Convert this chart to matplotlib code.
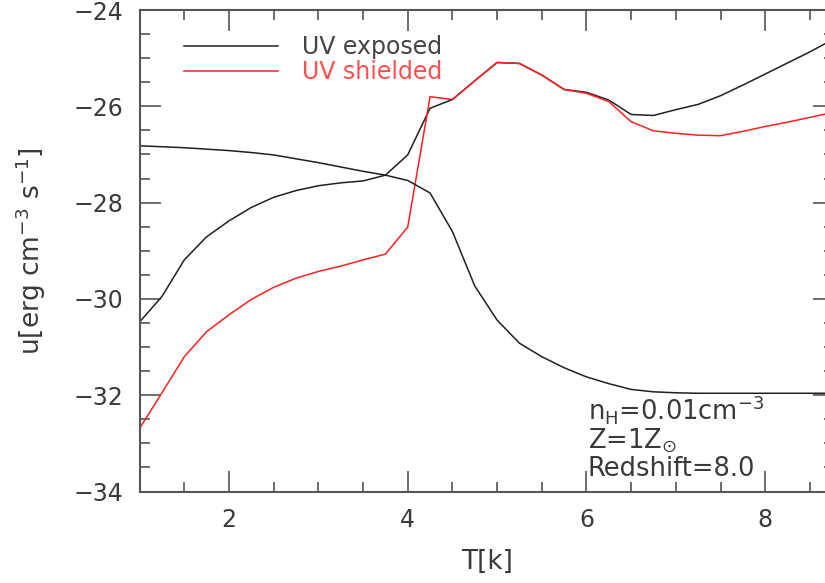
import matplotlib
matplotlib.use("Agg")
import matplotlib.pyplot as plt
from matplotlib.ticker import MultipleLocator

T = [1.0, 1.25, 1.5, 1.75, 2.0, 2.25, 2.5, 2.75, 3.0, 3.25, 3.5, 3.75, 4.0, 4.25,
     4.5, 4.75, 5.0, 5.25, 5.5, 5.75, 6.0, 6.25, 6.5, 6.75, 7.0, 7.25, 7.5, 7.75,
     8.0, 8.25, 8.5, 8.75]

uv_exposed = [-30.48, -29.95, -29.19, -28.71, -28.38, -28.10, -27.89, -27.75, -27.65,
              -27.59, -27.55, -27.43, -27.01, -26.04, -25.86, -25.47, -25.09, -25.11,
              -25.35, -25.65, -25.71, -25.87, -26.17, -26.19, -26.07, -25.96, -25.78,
              -25.56, -25.33, -25.10, -24.87, -24.62]

uv_shielded = [-32.69, -31.95, -31.20, -30.68, -30.33, -30.01, -29.76, -29.57, -29.43,
               -29.32, -29.19, -29.07, -28.51, -25.80, -25.86, -25.47, -25.09, -25.11,
               -25.35, -25.65, -25.73, -25.90, -26.32, -26.51, -26.56, -26.60, -26.61,
               -26.52, -26.42, -26.33, -26.23, -26.13]

cooling = [-26.82, -26.84, -26.86, -26.89, -26.92, -26.96, -27.01, -27.09, -27.17,
           -27.26, -27.35, -27.43, -27.54, -27.80, -28.60, -29.73, -30.44, -30.92,
           -31.20, -31.43, -31.62, -31.76, -31.88, -31.93, -31.95, -31.96, -31.96,
           -31.96, -31.96, -31.96, -31.96, -31.96]

labels = ["UV exposed", "UV shielded"]
annot = [r"n$_{\rm H}$=0.01cm$^{-3}$", r"Z=1Z$_{\odot}$", "Redshift=8.0"]

plt.rcParams['font.family'] = ['DejaVu Sans']
plt.rcParams['mathtext.fontset'] = 'dejavusans'
txt = '#3a3a3a'
axc = '#555555'

fig = plt.figure(figsize=(8.25, 5.83), dpi=100)
ax = fig.add_axes([139.6/825, 1-491.5/583, 694.4/825, 481.5/583])

l1, = ax.plot(T, uv_exposed, color='#202020', lw=1.1, label=labels[0])
l2, = ax.plot(T, uv_shielded, color='#ff2020', lw=1.1, label=labels[1])
ax.plot(T, cooling, color='#202020', lw=1.1)

ax.set_xlim(1, 8.77)
ax.set_ylim(-34, -24)
ax.xaxis.set_major_locator(MultipleLocator(2))
ax.xaxis.set_minor_locator(MultipleLocator(0.5))
ax.yaxis.set_major_locator(MultipleLocator(2))
ax.yaxis.set_minor_locator(MultipleLocator(0.5))
ax.tick_params(which='both', direction='in', top=True, right=True, color=axc,
               labelcolor=txt, labelsize=17, width=1.2)
ax.tick_params(which='major', length=15, pad=12)
ax.tick_params(which='minor', length=7)
for s in ax.spines.values():
    s.set_color(axc)
    s.set_linewidth(1.5)

ax.set_xlabel("T[k]", fontsize=19, color=txt, labelpad=12)
ax.set_ylabel(r"u[erg cm$^{-3}$ s$^{-1}$]", fontsize=19, color=txt, labelpad=18)

leg = ax.legend(handles=[l1, l2], loc='upper left', bbox_to_anchor=(0.064, 0.948),
                frameon=False, fontsize=17, handlelength=4.0, handletextpad=1.0,
                labelspacing=0.05, borderpad=0, borderaxespad=0)
leg.get_texts()[0].set_color('#444444')
leg.get_texts()[1].set_color('#ff5050')

for i, s in enumerate(annot):
    fig.text(588/825, 1 - (420 + i*28)/583, s, fontsize=18.5, color=txt,
             ha='left', va='baseline')

fig.savefig("out.png", dpi=100)
